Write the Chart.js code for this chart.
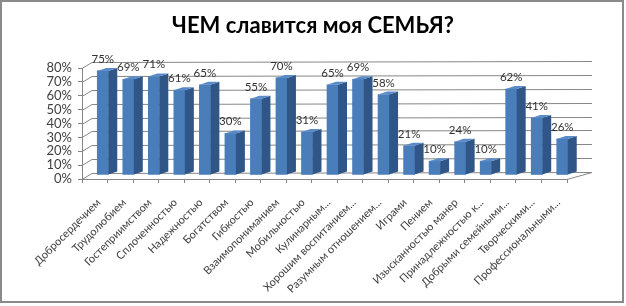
<!DOCTYPE html>
<html>
<head>
<meta charset="utf-8">
<script src="https://cdn.jsdelivr.net/npm/chart.js@4.4.1/dist/chart.umd.min.js"></script>
<style>
  html, body { margin: 0; padding: 0; background: #ffffff; }
  #wrap { position: absolute; left: 0; top: 0; width: 626px; height: 306px; }
  #frame { position: absolute; left: 0; top: 0; width: 624px; height: 303px; box-sizing: border-box; border: 2px solid #8a8a8a; pointer-events: none; }
  canvas { position: absolute; left: 0; top: 0; }
</style>
</head>
<body>
<div id="wrap">
  <canvas id="c" width="626" height="306"></canvas>
  <div id="frame"></div>
</div>
<script>
const chartTitle = 'ЧЕМ славится моя СЕМЬЯ?';
const categories = [
  'Добросердечием', 'Трудолюбием', 'Гостеприимством', 'Сплоченностью', 'Надежностью',
  'Богатством', 'Гибкостью', 'Взаимопониманием', 'Мобильностью', 'Кулинарным...',
  'Хорошим воспитанием...', 'Разумным отношением...', 'Играми', 'Пением',
  'Изысканностью манер', 'Принадлежностью к...', 'Добрыми семейными...',
  'Творческими...', 'Профессиональными...'
];
const values = [75, 69, 71, 61, 65, 30, 55, 70, 31, 65, 69, 58, 21, 10, 24, 10, 62, 41, 26];
const yMax = 80;
const yStep = 10;

const FONT = 'Lato, "Liberation Sans", sans-serif';
const GRID = '#868686';
const SHIFT_X = 8, SHIFT_Y = -4;     // bars sit set back from the front edge
const SIDE_X = 9, SIDE_Y = -3;       // 3D depth of each bar

const wallPlugin = {
  id: 'wall',
  beforeDraw(chart) {
    const { ctx } = chart;
    ctx.save();
    ctx.fillStyle = '#000000';
    ctx.font = 'bold 22px ' + FONT;
    ctx.textAlign = 'center';
    ctx.textBaseline = 'middle';
    ctx.fillText(chartTitle, 313, 26);
    ctx.restore();
  },
  beforeDatasetsDraw(chart) {
    const { ctx, chartArea: a, scales: { y } } = chart;
    ctx.save();
    ctx.strokeStyle = GRID;
    ctx.lineWidth = 1;
    for (let v = 0; v <= yMax; v += yStep) {
      const py = Math.round(y.getPixelForValue(v)) + 0.5;
      ctx.beginPath();
      ctx.moveTo(a.left, py);
      ctx.lineTo(a.left + 10, py - 6);
      ctx.lineTo(a.right + 25, py - 7);
      ctx.stroke();
    }
    const b = Math.round(a.bottom) + 0.5;
    ctx.beginPath();
    ctx.moveTo(a.right, b);
    ctx.lineTo(a.right + 25, b - 7);
    ctx.stroke();
    ctx.restore();
    ctx.save();
    ctx.translate(SHIFT_X, SHIFT_Y);
  },
  afterDatasetsDraw(chart) {
    const { ctx } = chart;
    const meta = chart.getDatasetMeta(0);
    meta.data.forEach((bar, i) => {
      const w = bar.width;
      const l = bar.x - w / 2, r = bar.x + w / 2;
      const t = bar.y, btm = bar.base;
      ctx.fillStyle = '#2f5687';
      ctx.beginPath();
      ctx.moveTo(r, t);
      ctx.lineTo(r + SIDE_X, t + SIDE_Y);
      ctx.lineTo(r + SIDE_X, btm + SIDE_Y);
      ctx.lineTo(r, btm);
      ctx.closePath();
      ctx.fill();
      ctx.fillStyle = '#5a8bc9';
      ctx.beginPath();
      ctx.moveTo(l, t);
      ctx.lineTo(l + SIDE_X, t + SIDE_Y);
      ctx.lineTo(r + SIDE_X, t + SIDE_Y);
      ctx.lineTo(r, t);
      ctx.closePath();
      ctx.fill();
      ctx.fillStyle = '#333333';
      ctx.font = '11.5px ' + FONT;
      ctx.textAlign = 'center';
      ctx.textBaseline = 'alphabetic';
      ctx.fillText(values[i] + '%', bar.x, t - 8);
    });
    ctx.restore();
  }
};

new Chart(document.getElementById('c'), {
  type: 'bar',
  data: {
    labels: categories,
    datasets: [{
      data: values,
      backgroundColor: '#4a7ebb',
      borderWidth: 0,
      barThickness: 11
    }]
  },
  options: {
    responsive: false,
    animation: false,
    devicePixelRatio: 1,
    layout: { padding: { left: 0, right: 59, top: 68, bottom: 0 } },
    plugins: {
      legend: { display: false },
      tooltip: { enabled: false },
      title: { display: false }
    },
    scales: {
      y: {
        min: 0,
        max: yMax,
        ticks: {
          stepSize: yStep,
          autoSkip: false,
          callback: v => v + '%',
          color: '#404040',
          font: { family: FONT, size: 13 },
          padding: 6
        },
        grid: { drawOnChartArea: false, tickLength: 4, color: GRID },
        border: { color: GRID },
        afterFit(s) { s.width = 82; }
      },
      x: {
        ticks: {
          autoSkip: false,
          minRotation: 45,
          maxRotation: 45,
          color: '#404040',
          font: { family: FONT, size: 11 },
          padding: 13,
          labelOffset: 4
        },
        grid: { drawOnChartArea: false, tickLength: 4, color: GRID, offset: true },
        border: { color: GRID },
        afterFit(s) { s.height = 306 - 179; }
      }
    }
  },
  plugins: [wallPlugin]
});
</script>
</body>
</html>
